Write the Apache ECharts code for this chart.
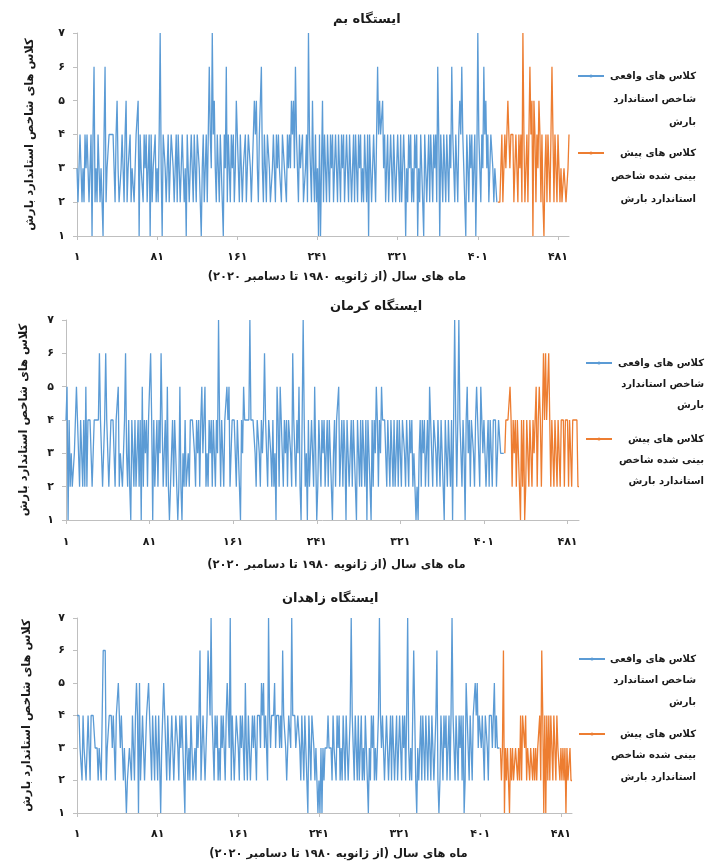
<!DOCTYPE html>
<html>
<head>
<meta charset="utf-8">
<script src="https://cdn.jsdelivr.net/npm/echarts@6/dist/echarts.min.js"></script>
<style>
  html, body { margin: 0; padding: 0; background: #fff; }
  #main { width: 705px; height: 863px; }
</style>
</head>
<body>
<div id="main" dir="rtl"></div>
<script>
// کلاس های شاخص استاندارد بارش - ماه 1 تا 492 (ژانویه 1980 تا دسامبر 2020)
const xTicks = [1, 81, 161, 241, 321, 401, 481]
const stations = ['ایستگاه بم', 'ایستگاه کرمان', 'ایستگاه زاهدان']

// ایستگاه بم
const bamActual = [
  3,2,3,4,3,2,3,2,4,3, 4,4,2,3,4,1,4,6,2,3,
  2,4,3,2,3,2,1,4,6,2, 3,3,4,4,4,4,4,3,2,4,
  5,3,2,2,3,4,3,2,4,5, 2,3,3,4,2,3,3,2,3,4,
  4,5,1,4,3,3,2,4,3,4, 2,3,4,1,4,2,3,3,4,2,
  3,2,4,7,3,1,4,4,3,2, 3,4,2,3,4,4,3,2,3,4,
  2,4,3,2,3,4,4,2,3,1, 4,3,2,3,4,3,2,4,3,2,
  4,4,3,2,1,3,4,2,3,4, 2,4,6,4,3,7,4,5,3,2,
  4,3,2,4,3,2,1,4,3,6, 2,4,3,2,4,3,4,2,3,5,
  4,3,2,4,4,2,3,3,4,2, 3,4,4,3,2,3,4,5,4,5,
  3,2,4,4,6,3,2,4,3,2, 4,4,3,2,2,3,4,3,2,4,
  3,4,3,3,2,4,4,3,3,2, 4,3,4,3,5,4,5,3,6,4,
  3,2,4,3,3,4,2,2,3,4, 2,7,4,3,2,5,3,2,4,2,
  3,1,4,1,3,5,2,4,3,2, 4,3,2,4,3,4,2,3,4,3,
  2,4,3,2,4,3,4,2,3,4, 3,2,4,3,2,3,4,2,4,3,
  2,4,3,4,2,3,2,4,3,2, 4,1,4,3,2,3,4,3,2,4,
  6,4,5,4,4,5,3,4,2,3, 4,2,3,4,3,2,4,3,2,3,
  4,3,2,4,2,3,4,3,1,3, 2,4,3,4,2,3,2,4,3,4,
  1,3,2,4,3,2,1,4,3,2, 3,4,2,4,3,2,4,3,4,2,
  6,4,1,4,3,2,4,3,2,4, 3,2,4,3,6,4,3,2,4,3,
  2,4,5,4,6,4,3,2,1,4, 3,2,4,3,4,2,3,4,1,3,
  7,4,3,2,4,3,6,4,5,3, 4,2,3,4,4,3,2,3,3,2
]
const bamPredicted = [
  2,2,2,3,4,2,3,4,3,4, 5,4,3,4,4,4,2,3,4,4,
  2,4,3,4,2,7,4,2,3,4, 2,4,6,4,5,1,5,4,2,4,
  3,5,4,2,4,2,1,3,4,2, 4,4,2,4,6,4,2,4,4,2,
  4,3,2,3,2,2,3,3,2,2, 3,4
]

// ایستگاه کرمان
const kermanActual = [
  4,5,1,4,2,3,2,2,3,4, 5,4,3,2,4,3,2,4,2,5,
  2,4,4,4,3,2,2,4,4,4, 4,4,6,4,3,2,3,4,6,4,
  3,2,2,4,4,4,3,2,4,4, 5,2,3,3,2,3,4,6,3,2,
  4,2,1,4,3,2,4,2,3,4, 2,4,1,5,2,4,3,4,2,4,
  4,6,4,1,4,2,3,4,2,4, 3,6,4,2,3,4,2,5,2,1,
  2,3,4,2,4,3,2,1,2,5, 2,1,3,2,4,2,2,3,2,4,
  4,4,4,3,2,4,3,4,2,4, 5,3,4,5,2,3,2,4,3,4,
  2,4,4,2,4,3,7,4,2,4, 3,2,4,4,5,4,5,2,3,4,
  4,4,3,2,4,4,2,1,4,3, 5,4,4,4,4,4,7,4,4,4,
  4,3,2,4,4,3,2,4,3,4, 6,4,3,2,4,4,3,2,4,2,
  3,1,5,4,2,5,4,3,2,4, 3,4,2,4,4,3,2,6,4,3,
  2,4,3,5,2,1,4,7,4,2, 3,1,4,2,3,4,4,2,5,3,
  1,2,4,3,2,4,3,4,2,3, 4,2,4,3,2,1,3,4,2,4,
  4,5,2,3,4,2,4,3,1,4, 4,2,3,4,2,4,3,2,1,4,
  3,2,4,2,4,3,2,4,1,4, 3,2,1,4,2,4,3,5,4,2,
  4,3,5,4,4,4,3,2,4,3, 2,4,3,2,4,2,3,4,2,4,
  3,2,4,4,3,2,4,3,2,4, 3,4,2,3,2,1,2,1,3,4,
  2,4,3,4,2,3,4,2,5,4, 3,2,4,4,3,2,4,3,2,4,
  3,2,1,4,3,2,4,4,2,4, 1,4,7,4,2,4,7,4,3,2,
  4,3,1,4,5,3,4,2,4,4, 3,2,4,5,4,4,2,5,4,3,
  4,4,2,3,4,2,4,3,2,4, 4,4,2,3,4,4,3,3,3,3
]
const kermanPredicted = [
  3,4,4,4,4,5,4,2,4,3, 4,2,4,4,2,1,4,2,4,1,
  2,4,4,2,4,4,2,4,3,4, 5,2,4,5,4,2,4,6,4,6,
  4,5,6,4,2,4,4,2,4,4, 2,4,4,2,4,4,4,2,4,4,
  4,2,4,4,2,4,4,4,4,4, 2,2
]

// ایستگاه زاهدان
const zahedanActual = [
  4,4,4,3,3,2,4,3,3,2, 3,4,4,2,4,4,4,4,3,3,
  3,2,3,3,2,4,6,6,6,2, 3,3,4,4,4,3,4,4,2,4,
  4,5,4,3,4,4,2,3,2,1, 2,2,3,3,2,4,3,2,4,5,
  4,1,5,2,3,4,3,2,3,4, 4,5,4,3,2,4,3,2,4,3,
  2,4,4,1,3,4,5,4,3,2, 4,3,2,3,4,3,2,3,4,4,
  3,2,4,3,4,3,2,1,4,3, 2,3,2,4,3,2,2,3,2,4,
  3,4,6,2,3,4,4,2,3,4, 6,5,4,7,4,3,2,4,3,4,
  2,3,2,4,3,4,3,2,4,5, 4,3,7,2,4,3,2,3,4,4,
  3,2,4,3,4,3,2,5,3,2, 4,4,2,3,4,3,4,4,2,4,
  4,4,3,5,4,5,3,4,3,2, 7,4,3,4,4,4,5,3,4,4,
  4,3,4,3,6,4,4,3,2,3, 4,4,3,7,4,4,4,3,3,4,
  4,3,2,4,3,2,4,3,2,1, 4,3,2,4,4,3,2,3,2,1,
  2,1,3,1,3,2,3,3,3,4, 3,3,3,2,4,3,3,2,4,3,
  4,2,3,2,4,3,2,4,4,2, 3,4,7,4,3,2,4,3,2,4,
  2,3,4,2,3,2,4,3,2,1, 3,2,4,3,4,2,3,2,3,4,
  7,4,3,4,4,2,3,4,4,2, 3,4,2,4,3,2,3,4,2,3,
  4,3,2,4,3,4,2,4,7,3, 2,3,2,4,6,4,2,1,3,2,
  3,4,2,4,3,2,4,3,2,4, 3,2,4,3,2,3,4,6,2,1,
  2,4,3,2,4,3,4,2,3,4, 2,4,7,4,3,2,4,3,2,4,
  3,4,2,4,1,2,5,4,3,2, 4,3,2,4,4,5,4,5,3,4,
  4,3,4,4,2,4,4,3,2,4, 4,4,3,4,5,3,4,3,3,3
]
const zahedanPredicted = [
  3,2,3,6,1,3,2,3,2,1, 3,2,3,2,2,3,3,2,3,2,
  4,2,4,4,3,4,2,3,3,2, 3,3,2,3,2,3,2,3,3,4,
  2,6,4,1,4,1,4,2,4,2, 4,4,2,4,4,2,4,3,3,2,
  3,2,3,2,3,1,3,2,2,3, 2,2
]

const actualData = [bamActual, kermanActual, zahedanActual]
const predictedData = [bamPredicted, kermanPredicted, zahedanPredicted]

const nameActual = 'کلاس های واقعی شاخص استاندارد بارش'
const namePredicted = 'کلاس های پیش بینی شده شاخص استاندارد بارش'
const linesActual = ['کلاس های واقعی', 'شاخص استاندارد', 'بارش']
const linesPredicted = ['کلاس های پیش', 'بینی شده شاخص', 'استاندارد بارش']

const months = []
for (let i = 1; i <= bamActual.length + bamPredicted.length; i++) months.push(i)

const FONT = 'DejaVu Sans'
const BLUE = '#5B9BD5'
const ORANGE = '#ED7D31'
const AXIS = '#BFBFBF'
const TXT = '#1a1a1a'

function toFa (v) {
  return String(v).replace(/\d/g, d => '۰۱۲۳۴۵۶۷۸۹'[d])
}

// layout of each panel
const panels = [
  { grid: { left: 77, top: 33, width: 492, height: 203 }, title: [333, 13], yGap: 41, lblMargin: 16, xGap: 35, leg: [577, 76, 153, 23, 87] },
  { grid: { left: 66, top: 320, width: 513, height: 200 }, title: [330, 300], yGap: 36, lblMargin: 17, xGap: 39, leg: [585, 363, 439, 21, 87] },
  { grid: { left: 77, top: 618, width: 495, height: 195 }, title: [282, 592], yGap: 44, lblMargin: 16, xGap: 35, leg: [578, 659, 734, 21.5, 86] }
]

const showTick = (idx) => xTicks.indexOf(idx + 1) >= 0

function legendItem (name, lines, left, iconY, lh, w) {
  const blank = '{a|\u00a0}'
  return {
    data: [name],
    orient: 'vertical',
    left: left,
    top: iconY - 2.5 * lh,
    padding: 0,
    itemWidth: 26,
    itemHeight: 4,
    selectedMode: false,
    formatter: () => [blank, blank].concat(lines.map(l => '{a|' + l + '}')).join('\n'),
    textStyle: {
      lineHeight: lh,
      rich: { a: { width: w, align: 'right', fontFamily: FONT, fontWeight: 'bold', fontSize: 10, color: TXT, lineHeight: lh } }
    }
  }
}

const option = {
  animation: false,
  backgroundColor: '#fff',
  title: [],
  legend: [],
  grid: [],
  xAxis: [],
  yAxis: [],
  series: []
}

panels.forEach((p, i) => {
  option.grid.push(p.grid)
  option.title.push({
    text: stations[i],
    left: p.title[0],
    top: p.title[1],
    padding: 0,
    textStyle: { fontFamily: FONT, fontWeight: 'bold', fontSize: 13, color: TXT }
  })
  option.legend.push(legendItem(nameActual, linesActual, p.leg[0], p.leg[1], p.leg[3], p.leg[4]))
  option.legend.push(legendItem(namePredicted, linesPredicted, p.leg[0], p.leg[2], p.leg[3], p.leg[4]))
  option.xAxis.push({
    type: 'category',
    gridIndex: i,
    data: months,
    boundaryGap: false,
    axisLine: { lineStyle: { color: AXIS, width: 1 } },
    axisTick: { interval: showTick, length: 4, lineStyle: { color: AXIS } },
    axisLabel: {
      interval: showTick,
      formatter: v => toFa(v),
      margin: p.lblMargin,
      fontFamily: FONT,
      fontWeight: 'bold',
      fontSize: 11,
      color: TXT
    },
    name: 'ماه های سال (از ژانویه ۱۹۸۰ تا دسامبر ۲۰۲۰)',
    nameLocation: 'middle',
    nameGap: p.xGap,
    nameTextStyle: { fontFamily: FONT, fontWeight: 'bold', fontSize: 11.5, color: TXT, padding: [0, 0, 0, 28] }
  })
  option.yAxis.push({
    type: 'value',
    gridIndex: i,
    min: 1,
    max: 7,
    interval: 1,
    splitLine: { show: false },
    axisLine: { show: true, lineStyle: { color: AXIS, width: 1 } },
    axisTick: { show: true, length: 4, lineStyle: { color: AXIS } },
    axisLabel: { formatter: v => toFa(v), margin: 12, fontFamily: FONT, fontWeight: 'bold', fontSize: 11, color: TXT },
    name: 'کلاس های شاخص استاندارد بارش',
    nameLocation: 'middle',
    nameRotate: 90,
    nameGap: p.yGap,
    nameTextStyle: { fontFamily: FONT, fontWeight: 'bold', fontSize: 11.5, color: TXT }
  })
  option.series.push({
    type: 'line',
    name: nameActual,
    xAxisIndex: i,
    yAxisIndex: i,
    data: actualData[i],
    symbol: 'circle',
    symbolSize: 3,
    showSymbol: false,
    lineStyle: { color: BLUE, width: 1.3 },
    itemStyle: { color: BLUE }
  })
  option.series.push({
    type: 'line',
    name: namePredicted,
    xAxisIndex: i,
    yAxisIndex: i,
    data: new Array(actualData[i].length).fill(null).concat(predictedData[i]),
    symbol: 'circle',
    symbolSize: 3,
    showSymbol: false,
    lineStyle: { color: ORANGE, width: 1.3 },
    itemStyle: { color: ORANGE }
  })
})

const myChart = echarts.init(document.getElementById('main'))
myChart.setOption(option)
</script>
</body>
</html>
